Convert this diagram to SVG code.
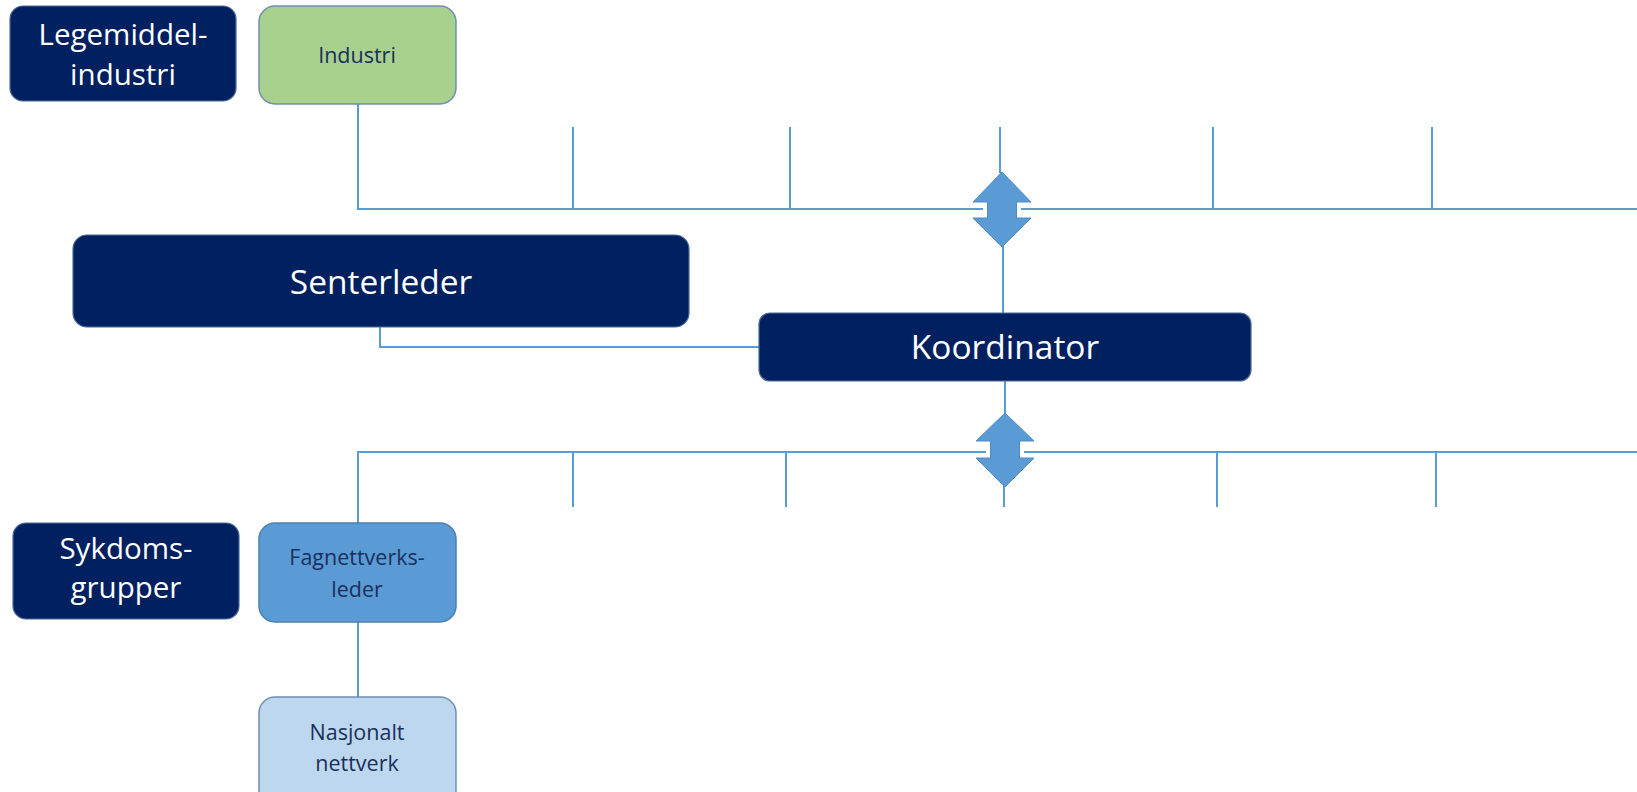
<svg xmlns="http://www.w3.org/2000/svg" width="1637" height="792" viewBox="0 0 1637 792">
  <style>
    .dark { fill: #002060; stroke: #4a6a99; stroke-width: 1.2; }
    .green { fill: #A9D18E; stroke: #6f8fae; stroke-width: 1.5; }
    .mid { fill: #5B9BD5; stroke: #4d7fae; stroke-width: 1.5; }
    .light { fill: #BDD7EE; stroke: #6f8fae; stroke-width: 1.5; }
    .wt { fill: #ffffff; font-family: "Open Sans", Lato, sans-serif; text-anchor: middle; }
    .dt { fill: #1a2f5c; font-family: "Open Sans", Lato, sans-serif; text-anchor: middle; }
    .conn { stroke: #5B9BD5; stroke-width: 2; fill: none; }
    .arrow { fill: #5B9BD5; stroke: #4f8cc4; stroke-width: 1; }
  </style>

  <!-- connectors -->
  <g id="connectors">
    <!-- upper bus -->
    <polyline class="conn" points="358,104 358,209 983,209"/>
    <line class="conn" x1="1021" y1="209" x2="1637" y2="209"/>
    <line class="conn" x1="573" y1="127" x2="573" y2="209"/>
    <line class="conn" x1="790" y1="127" x2="790" y2="209"/>
    <line class="conn" x1="1000" y1="127" x2="1000" y2="173"/>
    <line class="conn" x1="1213" y1="127" x2="1213" y2="209"/>
    <line class="conn" x1="1432" y1="127" x2="1432" y2="209"/>
    <line class="conn" x1="1003" y1="246" x2="1003" y2="313"/>
    <!-- Senterleder to Koordinator -->
    <polyline class="conn" points="380,327 380,347 759,347"/>
    <!-- lower bus -->
    <line class="conn" x1="1005" y1="381" x2="1005" y2="414"/>
    <polyline class="conn" points="358,524 358,452 986,452"/>
    <line class="conn" x1="1024" y1="452" x2="1637" y2="452"/>
    <line class="conn" x1="573" y1="452" x2="573" y2="507"/>
    <line class="conn" x1="786" y1="452" x2="786" y2="507"/>
    <line class="conn" x1="1004" y1="486" x2="1004" y2="507"/>
    <line class="conn" x1="1217" y1="452" x2="1217" y2="507"/>
    <line class="conn" x1="1436" y1="452" x2="1436" y2="507"/>
    <!-- Fagnettverksleder to Nasjonalt nettverk -->
    <line class="conn" x1="358" y1="622" x2="358" y2="697"/>
    <!-- up-down arrows -->
    <polygon class="arrow" points="1002,172 1031,202 1016.5,202 1016.5,218 1031,218 1002,247 973,218 987.5,218 987.5,202 973,202"/>
    <polygon class="arrow" points="1005,413 1034,441 1019.5,441 1019.5,458 1034,458 1005,487 976,458 990.5,458 990.5,441 976,441"/>
  </g>

  <g id="legemiddelindustri">
    <rect class="dark" x="10" y="6" width="226" height="95" rx="13"/>
    <text class="wt" x="123" y="45" font-size="29.5">Legemiddel-</text>
    <text class="wt" x="123" y="85" font-size="29.5">industri</text>
  </g>

  <g id="industri">
    <rect class="green" x="259" y="6" width="197" height="98" rx="16"/>
    <text class="dt" x="357" y="63" font-size="21.5">Industri</text>
  </g>

  <g id="senterleder">
    <rect class="dark" x="73" y="235" width="616" height="92" rx="14"/>
    <text class="wt" x="381" y="294" font-size="33.5">Senterleder</text>
  </g>

  <g id="koordinator">
    <rect class="dark" x="759" y="313" width="492" height="68" rx="11"/>
    <text class="wt" x="1005" y="359" font-size="33.5">Koordinator</text>
  </g>

  <g id="sykdomsgrupper">
    <rect class="dark" x="13" y="523" width="226" height="96" rx="13"/>
    <text class="wt" x="126" y="559" font-size="29.5">Sykdoms-</text>
    <text class="wt" x="126" y="598" font-size="29.5">grupper</text>
  </g>

  <g id="fagnettverksleder">
    <rect class="mid" x="259" y="523" width="197" height="99" rx="16"/>
    <text class="dt" x="357" y="565" font-size="21.5">Fagnettverks-</text>
    <text class="dt" x="357" y="597" font-size="21.5">leder</text>
  </g>

  <g id="nasjonalt-nettverk">
    <rect class="light" x="259" y="697" width="197" height="110" rx="16"/>
    <text class="dt" x="357" y="740" font-size="21.5">Nasjonalt</text>
    <text class="dt" x="357" y="771" font-size="21.5">nettverk</text>
  </g>
</svg>
